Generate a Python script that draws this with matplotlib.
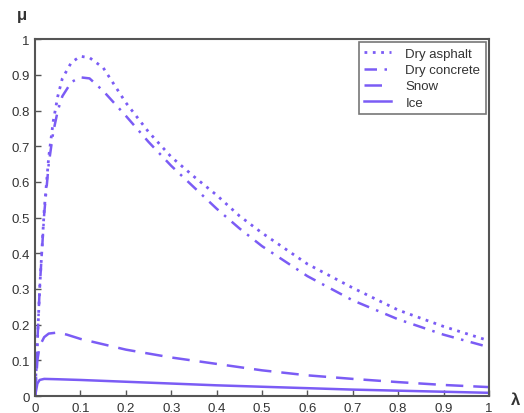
import matplotlib.pyplot as plt

# slip ratio values and friction coefficient
lam_dry = [0, 0.01, 0.02, 0.03, 0.04, 0.05, 0.06, 0.08, 0.1, 0.12, 0.15, 0.2, 0.25,
           0.3, 0.35, 0.4, 0.45, 0.5, 0.6, 0.7, 0.8, 0.9, 1.0]
dry_asphalt = [0, 0.30, 0.52, 0.67, 0.77, 0.84, 0.89, 0.935, 0.952, 0.948, 0.92, 0.822, 0.74,
               0.67, 0.615, 0.563, 0.505, 0.457, 0.37, 0.303, 0.241, 0.195, 0.155]
dry_concrete = [0, 0.30, 0.51, 0.65, 0.74, 0.80, 0.84, 0.88, 0.893, 0.89, 0.855, 0.785, 0.712,
                0.645, 0.585, 0.525, 0.47, 0.42, 0.336, 0.268, 0.215, 0.172, 0.137]

lam_snow = [0, 0.005, 0.01, 0.02, 0.03, 0.05, 0.07, 0.1, 0.15, 0.2, 0.3, 0.4, 0.5, 0.6, 0.7, 0.8, 0.9, 1.0]
snow = [0, 0.10, 0.14, 0.165, 0.175, 0.178, 0.172, 0.16, 0.145, 0.13, 0.108, 0.09, 0.072,
        0.058, 0.048, 0.039, 0.031, 0.025]

lam_ice = [0, 0.005, 0.01, 0.02, 0.05, 0.1, 0.2, 0.3, 0.4, 0.5, 0.6, 0.7, 0.8, 0.9, 1.0]
ice = [0, 0.035, 0.045, 0.048, 0.047, 0.045, 0.04, 0.035, 0.03, 0.026, 0.022, 0.018, 0.015, 0.012, 0.009]

ticks = [0, 0.1, 0.2, 0.3, 0.4, 0.5, 0.6, 0.7, 0.8, 0.9, 1]
tick_labels = ['0', '0.1', '0.2', '0.3', '0.4', '0.5', '0.6', '0.7', '0.8', '0.9', '1']

col = '#7b5cf5'
plt.rcParams['font.family'] = ['Liberation Sans', 'DejaVu Sans']

fig = plt.figure(figsize=(5.24, 4.14), dpi=100)
ax = fig.add_axes([0.067, 0.041, 0.866, 0.862])

ax.plot(lam_dry, dry_asphalt, color=col, linestyle=(0, (1, 2)), linewidth=2, label='Dry asphalt')
ax.plot(lam_dry, dry_concrete, color=col, linestyle=(0, (5, 3, 1, 3)), linewidth=1.8, label='Dry concrete')
ax.plot(lam_snow, snow, color=col, linestyle=(0, (7, 4)), linewidth=1.8, label='Snow')
ax.plot(lam_ice, ice, color=col, linestyle='-', linewidth=1.8, label='Ice')

ax.set_xlim(0, 1)
ax.set_ylim(0, 1)
ax.set_xticks(ticks)
ax.set_xticklabels(tick_labels)
ax.set_yticks(ticks)
ax.set_yticklabels(tick_labels)
ax.tick_params(direction='in', length=4, width=1, colors='#555555', labelcolor='#333333',
               labelsize=9.5, pad=4)
for s in ax.spines.values():
    s.set_color('#555555')
    s.set_linewidth(1.5)

leg = ax.legend(loc='upper right', fontsize=9.5, frameon=True, fancybox=False,
                handlelength=2.0, borderpad=0.4, labelspacing=0.3, borderaxespad=0.25,
                handletextpad=1.1)
leg.get_frame().set_edgecolor('#555555')
leg.get_frame().set_linewidth(1.2)
for t in leg.get_texts():
    t.set_color('#333333')

fig.text(0.041, 0.963, 'μ', fontsize=12, fontweight='bold', color='#333333', ha='center', va='center')
fig.text(0.983, 0.033, 'λ', fontsize=12, fontweight='bold', color='#333333', ha='center', va='center')

fig.savefig('out.png', dpi=100)
